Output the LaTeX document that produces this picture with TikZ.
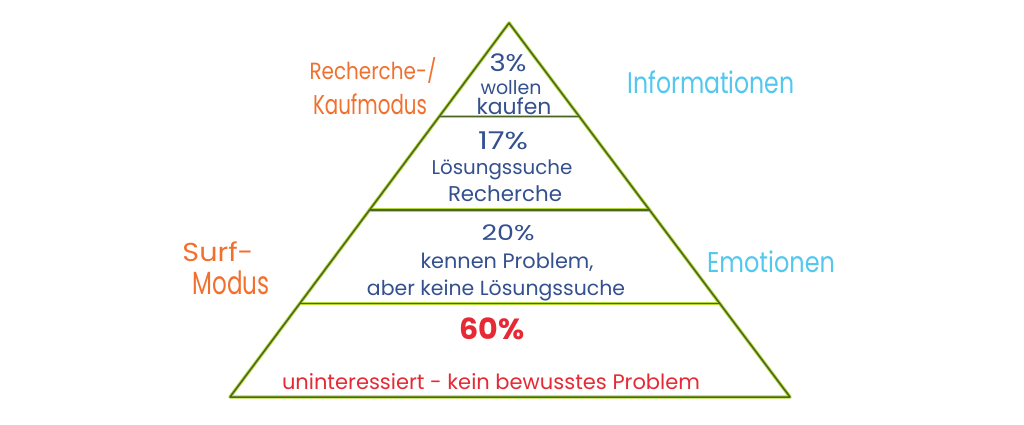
\documentclass[tikz,border=0pt]{standalone}
\usepackage{fontspec}
\usepackage{graphicx}
\setmainfont{Poppins}
\usetikzlibrary{calc}
\definecolor{pyrlight}{HTML}{B4DA3A}
\definecolor{pyrdark}{HTML}{4C6424}
\definecolor{penblue}{HTML}{34508F}
\definecolor{penorange}{HTML}{F2702E}
\definecolor{pencyan}{HTML}{52C8EE}
\definecolor{penred}{HTML}{E62A35}
\newcommand{\fitto}[2]{\resizebox{#1pt}{!}{#2}}
\newcommand{\fitwh}[3]{\resizebox*{#1pt}{#2pt}{#3}}
\begin{document}
\begin{tikzpicture}[x=1pt,y=-1pt,
  edgeglow/.style={draw=pyrlight,line width=3.4pt,line join=round,line cap=round},
  edgecore/.style={draw=pyrdark,line width=1.5pt,line join=round,line cap=round},
  txt/.style={inner sep=0pt,anchor=center,font=\fontsize{18}{22}\selectfont},
  bluetxt/.style={txt,text=penblue},
  orangetxt/.style={txt,text=penorange},
  cyantxt/.style={txt,text=pencyan},
  redtxt/.style={txt,text=penred}]
\useasboundingbox[fill=white] (0,0) rectangle (1024,425);
\coordinate (A) at (509,23);
\coordinate (BL) at (230,397);
\coordinate (BR) at (790,397);
\coordinate (La) at ($(A)!0.25!(BL)$);
\coordinate (Ra) at ($(A)!0.25!(BR)$);
\coordinate (Lb) at ($(A)!0.5!(BL)$);
\coordinate (Rb) at ($(A)!0.5!(BR)$);
\coordinate (Lc) at ($(A)!0.75!(BL)$);
\coordinate (Rc) at ($(A)!0.75!(BR)$);
\foreach \s in {edgeglow,edgecore}{
  \draw[\s] (A) -- (BL) -- (BR) -- cycle;
  \draw[\s] (La) -- (Ra);
  \draw[\s] (Lb) -- (Rb);
  \draw[\s] (Lc) -- (Rc);
}
% top level
\node[bluetxt] (p3) at (508,63) {\fitwh{37}{18}{3\%}};
\node[bluetxt] (p3a) at (511,88) {\fitto{61}{wollen}};
\node[bluetxt] (p3b) at (514,106) {\fitto{75}{kaufen}};
% second level
\node[bluetxt] (p17) at (503,141) {\fitwh{50}{18}{17\%}};
\node[bluetxt] (p17a) at (502,170) {\fitto{141}{Lösungssuche}};
\node[bluetxt] (p17b) at (505,194) {\fitto{114}{Recherche}};
% third level
\node[bluetxt] (p20) at (508,233) {\fitwh{53}{16}{20\%}};
\node[bluetxt] (p20a) at (507,262) {\fitto{173}{kennen Problem,}};
\node[bluetxt] (p20b) at (496,290) {\fitto{258}{aber keine Lösungssuche}};
% bottom level
\node[redtxt] (p60) at (492,329) {\fitwh{65}{22}{\bfseries 60\%}};
\node[redtxt] (p60a) at (491,382) {\fitto{418}{uninteressiert - kein bewusstes Problem}};
% side labels
\node[orangetxt] (rk1) at (373,70) {\fitwh{127}{26}{Recherche-/}};
\node[orangetxt] (rk2) at (370,104) {\fitwh{114}{21}{Kaufmodus}};
\node[orangetxt] (sm1) at (218,252) {\fitwh{71}{20}{Surf-}};
\node[orangetxt] (sm2) at (231,283) {\fitwh{77}{24}{Modus}};
\node[cyantxt] (info) at (711,82) {\fitwh{167}{23}{Informationen}};
\node[cyantxt] (emo) at (771,262) {\fitwh{128}{22}{Emotionen}};
\end{tikzpicture}
\end{document}
